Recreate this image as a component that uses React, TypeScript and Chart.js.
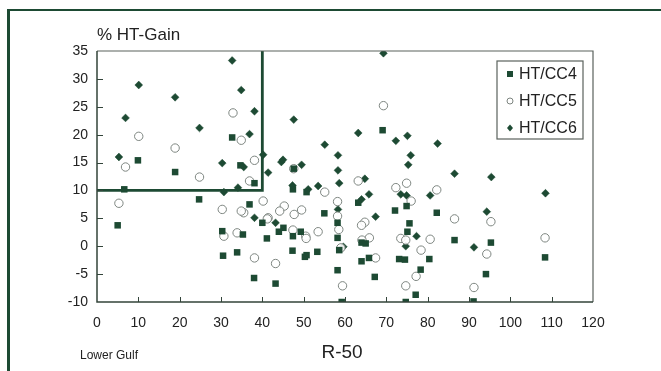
import React, { useEffect, useRef } from "react";
import { Chart, registerables } from "chart.js";

Chart.register(...registerables);

// ---- data ----
const seriesNames = ["HT/CC4", "HT/CC5", "HT/CC6"];

const cc4X = [32.7, 9.9, 34.7, 18.9, 38.1, 6.6, 24.7, 36.9, 40, 5.0, 30.3, 35.3, 41.1, 30.5, 33.9, 38, 69.1, 47.6, 47.4, 50.7, 63.2, 74.9, 72.1, 82.2, 55, 58.2, 75.6, 45.1, 44, 75.1, 49.3, 47.4, 58.2, 64, 65, 58.6, 47.3, 53.3, 50.7, 50.3, 65.8, 64, 73.1, 74.5, 80.4, 58.2, 78.3, 67.2, 43.2, 77.1, 59.2, 74.7, 86.5, 95.3, 108.4, 94.1, 91.1];
const cc4Y = [19.5, 15.4, 14.5, 13.3, 11.3, 10.2, 8.4, 7.5, 4.2, 3.75, 2.7, 2.1, 1.4, -1.7, -1.1, -5.7, 20.8, 13.9, 10.2, 9.7, 7.8, 7.2, 6.4, 6.0, 5.9, 4.2, 4.1, 3.3, 2.6, 2.6, 2.6, 1.8, 1.5, 0.65, 0.5, -0.7, -0.8, -1, -1.6, -1.9, -2.1, -2.7, -2.3, -2.4, -2.3, -4.3, -4.2, -5.5, -6.7, -8.7, -10, -10, 1.1, 0.65, -2.0, -5, -9.9];

const cc5X = [32.9, 34.9, 10.1, 18.9, 6.9, 38.1, 24.8, 36.9, 5.3, 30.3, 40.2, 35.5, 34.9, 41.4, 30.7, 33.9, 38.1, 69.3, 63.2, 72.3, 74.9, 82.2, 55.1, 76, 58.2, 45.3, 44.2, 41.2, 47.7, 49.5, 58.2, 64.8, 64, 58.5, 47.4, 50.5, 50.6, 53.5, 65.9, 73.5, 74.7, 80.6, 64.1, 59, 78.4, 43.2, 67.4, 77.2, 59.4, 74.7, 86.5, 95.3, 108.4, 94.3, 91.2, 47.6];
const cc5Y = [23.9, 19, 19.7, 17.6, 14.2, 15.4, 12.4, 11.7, 7.7, 6.6, 8.1, 6.0, 6.3, 5.1, 1.8, 2.4, -2.1, 25.2, 11.7, 10.5, 11.3, 10.1, 9.7, 8.1, 8.0, 7.2, 6.3, 4.9, 5.7, 6.5, 5.4, 4.3, 3.75, 3.0, 2.9, 1.8, 1.4, 2.6, 1.5, 1.4, 1.1, 1.25, 1.1, -0.3, -0.7, -3.1, -2.1, -5.4, -7.1, -7.1, 4.9, 4.4, 1.5, -1.4, -7.4, 13.9];

const cc6X = [32.7, 10.1, 18.9, 34.9, 38.1, 6.9, 24.8, 36.9, 5.3, 40.2, 30.3, 35.5, 41.4, 34.1, 30.7, 38.1, 69.3, 47.6, 63.2, 72.3, 75.1, 82.4, 55.1, 58.3, 75.9, 44.6, 45, 49.5, 58.3, 75.3, 58.6, 64.8, 47.3, 51.1, 53.5, 73.5, 74.9, 80.6, 64, 65.8, 58.3, 43.2, 67.4, 77.3, 59.6, 74.7, 86.5, 95.4, 108.5, 94.3, 91.2];
const cc6Y = [33.3, 28.9, 26.7, 28, 24.2, 23, 21.2, 20.1, 16, 16.4, 14.9, 14.2, 13.2, 10.5, 9.7, 5.1, 34.6, 22.7, 20.3, 18.9, 19.8, 18.4, 18.2, 16.3, 16.3, 15.1, 15.5, 14.6, 13.6, 14.6, 11.3, 12.1, 10.9, 10.2, 10.8, 9.3, 9.1, 9.1, 8.4, 9.3, 6.6, 4.2, 5.3, 1.8, -0.1, 0, 13, 12.4, 9.5, 6.2, -0.2];

// highlighted region outline (x up to 40, y above 10)
const boxX = [0, 40, 40];
const boxY = [10, 10, 35];

const xTicks = [0, 10, 20, 30, 40, 50, 60, 70, 80, 90, 100, 110, 120];
const yTicks = [-10, -5, 0, 5, 10, 15, 20, 25, 30, 35];

const xTitle = "R-50";
const yTitle = "% HT-Gain";
const cornerNote = "Lower Gulf";

const GREEN = "#1d4a33";
const CIRCLE = "#7d8580";
const AXIS = "#33443a";
const TEXT = "#222222";
const FONT = "'Liberation Sans', Arial, sans-serif";

const toPts = (xs: number[], ys: number[]) => xs.map((x, i) => ({ x, y: ys[i] }));

const decorPlugin = {
  id: "decor",
  afterDraw(chart: any) {
    const { ctx, chartArea, scales } = chart;
    const xs = scales.x;
    const ys = scales.y;
    ctx.save();
    // plot frame top/right
    ctx.strokeStyle = "#5a625d";
    ctx.lineWidth = 1.2;
    ctx.beginPath();
    ctx.moveTo(chartArea.left, chartArea.top);
    ctx.lineTo(chartArea.right, chartArea.top);
    ctx.lineTo(chartArea.right, chartArea.bottom);
    ctx.stroke();
    // axes left/bottom
    ctx.strokeStyle = AXIS;
    ctx.lineWidth = 1.5;
    ctx.beginPath();
    ctx.moveTo(chartArea.left, chartArea.top);
    ctx.lineTo(chartArea.left, chartArea.bottom);
    ctx.lineTo(chartArea.right, chartArea.bottom);
    ctx.stroke();
    // inner ticks
    ctx.lineWidth = 1;
    ctx.beginPath();
    xTicks.forEach((v) => {
      if (v === xTicks[0] || v === xTicks[xTicks.length - 1]) return;
      const px = Math.round(xs.getPixelForValue(v)) + 0.5;
      ctx.moveTo(px, chartArea.bottom);
      ctx.lineTo(px, chartArea.bottom - 5);
    });
    yTicks.forEach((v) => {
      if (v === yTicks[0] || v === yTicks[yTicks.length - 1]) return;
      const py = Math.round(ys.getPixelForValue(v)) + 0.5;
      ctx.moveTo(chartArea.left, py);
      ctx.lineTo(chartArea.left + 6, py);
    });
    ctx.stroke();

    // legend
    const lw = 86, lh = 78;
    const lx = chartArea.right - 10 - lw;
    const ly = chartArea.top + 10;
    ctx.fillStyle = "#ffffff";
    ctx.fillRect(lx, ly, lw, lh);
    ctx.strokeStyle = "#5a625d";
    ctx.lineWidth = 1.2;
    ctx.strokeRect(lx, ly, lw, lh);
    ctx.font = `16px ${FONT}`;
    ctx.textBaseline = "middle";
    ctx.textAlign = "left";
    seriesNames.forEach((name, i) => {
      const cy = ly + 13 + i * 27;
      const mx = lx + 13;
      if (i === 0) {
        ctx.fillStyle = GREEN;
        ctx.fillRect(mx - 3, cy - 3, 6, 6);
      } else if (i === 1) {
        ctx.strokeStyle = CIRCLE;
        ctx.lineWidth = 1;
        ctx.beginPath();
        ctx.arc(mx, cy, 3, 0, Math.PI * 2);
        ctx.stroke();
      } else {
        ctx.fillStyle = GREEN;
        ctx.beginPath();
        ctx.moveTo(mx, cy - 3.5);
        ctx.lineTo(mx + 3, cy);
        ctx.lineTo(mx, cy + 3.5);
        ctx.lineTo(mx - 3, cy);
        ctx.closePath();
        ctx.fill();
      }
      ctx.fillStyle = TEXT;
      ctx.fillText(name, lx + 22, cy + 1);
    });

    // titles
    ctx.fillStyle = TEXT;
    ctx.font = `17px ${FONT}`;
    ctx.textAlign = "left";
    ctx.fillText(yTitle, chartArea.left, 35);
    ctx.font = `19px ${FONT}`;
    ctx.textAlign = "center";
    ctx.fillText(xTitle, 342, 353);
    ctx.font = `12px ${FONT}`;
    ctx.textAlign = "left";
    ctx.fillText(cornerNote, 80, 356);
    ctx.restore();
  },
};

export default function App() {
  const ref = useRef<HTMLCanvasElement | null>(null);

  useEffect(() => {
    if (!ref.current) return;
    const chart = new Chart(ref.current, {
      type: "scatter",
      data: {
        datasets: [
          {
            label: "box",
            data: toPts(boxX, boxY),
            showLine: true,
            borderColor: GREEN,
            borderWidth: 2.8,
            pointRadius: 0,
            fill: false,
            order: 10,
          } as any,
          {
            label: seriesNames[0],
            data: toPts(cc4X, cc4Y),
            pointStyle: "rect",
            pointRadius: 4.6,
            backgroundColor: GREEN,
            borderColor: GREEN,
            borderWidth: 0,
          },
          {
            label: seriesNames[1],
            data: toPts(cc5X, cc5Y),
            pointStyle: "circle",
            pointRadius: 4.2,
            backgroundColor: "rgba(255,255,255,0.9)",
            borderColor: CIRCLE,
            borderWidth: 1,
          },
          {
            label: seriesNames[2],
            data: toPts(cc6X, cc6Y),
            pointStyle: "rectRot",
            pointRadius: 3.9,
            backgroundColor: GREEN,
            borderColor: GREEN,
            borderWidth: 0.5,
          },
        ],
      },
      options: {
        animation: false,
        responsive: false,
        maintainAspectRatio: false,
        layout: { padding: { left: 0, top: 51, right: 68, bottom: 0 } },
        plugins: {
          legend: { display: false },
          tooltip: { enabled: false },
          title: { display: false },
        },
        scales: {
          x: {
            type: "linear",
            min: 0,
            max: 120,
            afterFit: (s: any) => {
              s.height = 69;
            },
            afterBuildTicks: (s: any) => {
              s.ticks = xTicks.map((v) => ({ value: v }));
            },
            grid: { display: false, drawTicks: false },
            border: { display: false },
            ticks: {
              padding: 13,
              color: TEXT,
              font: { family: FONT, size: 14 },
              maxRotation: 0,
              autoSkip: false,
            },
          },
          y: {
            type: "linear",
            min: -10,
            max: 35,
            afterFit: (s: any) => {
              s.width = 97;
            },
            afterBuildTicks: (s: any) => {
              s.ticks = yTicks.map((v) => ({ value: v }));
            },
            grid: { display: false, drawTicks: false },
            border: { display: false },
            ticks: {
              padding: 9,
              color: TEXT,
              font: { family: FONT, size: 14 },
              autoSkip: false,
            },
          },
        },
      },
      plugins: [decorPlugin],
    });
    return () => chart.destroy();
  }, []);

  return (
    <div style={{ position: "fixed", left: 0, top: 0, width: 661, height: 371, background: "#ffffff", overflow: "hidden" }}>
      <div
        style={{
          position: "absolute",
          left: 7,
          top: 9,
          width: 700,
          height: 400,
          borderTop: `2px solid ${GREEN}`,
          borderLeft: `3px solid ${GREEN}`,
        }}
      />
      <canvas ref={ref} width={661} height={371} style={{ position: "absolute", left: 0, top: 0, width: 661, height: 371 }} />
    </div>
  );
}
